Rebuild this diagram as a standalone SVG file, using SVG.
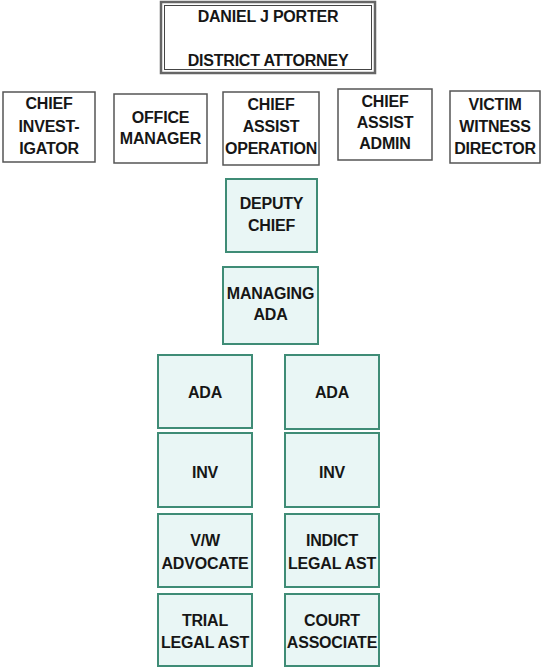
<svg xmlns="http://www.w3.org/2000/svg" width="542" height="667" viewBox="0 0 542 667">
<style>
text{font-family:"Liberation Sans",Arial,sans-serif;font-weight:bold;font-size:16px;letter-spacing:-0.2px;fill:#161616;text-anchor:middle}
.w{fill:#fff;stroke:#555;stroke-width:1.5}
.t{fill:#e9f6f5;stroke:#3f8c76;stroke-width:2}
</style>
<rect width="542" height="667" fill="#fff"/>
<g id="da">
<rect x="161" y="2" width="214" height="71" fill="#fff" stroke="#666" stroke-width="2.5"/>
<rect x="164.5" y="5.5" width="207" height="64" fill="none" stroke="#444" stroke-width="1"/>
<text x="268" y="22">DANIEL J PORTER</text>
<text x="268" y="66">DISTRICT ATTORNEY</text>
</g>
<g id="chief-investigator">
<rect class="w" x="3" y="92" width="92" height="70"/>
<text x="49" y="109">CHIEF</text><text x="49" y="132">INVEST-</text><text x="49" y="154">IGATOR</text>
</g>
<g id="office-manager">
<rect class="w" x="114" y="94" width="93" height="69"/>
<text x="160.5" y="123">OFFICE</text><text x="160.5" y="144">MANAGER</text>
</g>
<g id="chief-assist-operation">
<rect class="w" x="223" y="92" width="96" height="73"/>
<text x="271" y="110">CHIEF</text><text x="271" y="132">ASSIST</text><text x="271" y="154">OPERATION</text>
</g>
<g id="chief-assist-admin">
<rect class="w" x="338" y="89" width="94" height="71"/>
<text x="385" y="107">CHIEF</text><text x="385" y="128">ASSIST</text><text x="385" y="149">ADMIN</text>
</g>
<g id="victim-witness-director">
<rect class="w" x="450" y="91" width="90" height="72"/>
<text x="495" y="110">VICTIM</text><text x="495" y="132">WITNESS</text><text x="495" y="154">DIRECTOR</text>
</g>
<g id="deputy-chief">
<rect class="t" x="226" y="179" width="91" height="73"/>
<text x="271.5" y="209">DEPUTY</text><text x="271.5" y="231">CHIEF</text>
</g>
<g id="managing-ada">
<rect class="t" x="223" y="267" width="95" height="77"/>
<text x="270.5" y="299">MANAGING</text><text x="270.5" y="320">ADA</text>
</g>
<g id="ada-1">
<rect class="t" x="158" y="355" width="94" height="73"/>
<text x="205" y="398">ADA</text>
</g>
<g id="ada-2">
<rect class="t" x="285" y="355" width="94" height="74"/>
<text x="332" y="398">ADA</text>
</g>
<g id="inv-1">
<rect class="t" x="158" y="433" width="94" height="74"/>
<text x="205" y="478">INV</text>
</g>
<g id="inv-2">
<rect class="t" x="285" y="433" width="94" height="74"/>
<text x="332" y="478">INV</text>
</g>
<g id="vw-advocate">
<rect class="t" x="158" y="514" width="94" height="73"/>
<text x="205" y="546">V/W</text><text x="205" y="569">ADVOCATE</text>
</g>
<g id="indict-legal-ast">
<rect class="t" x="285" y="514" width="94" height="73"/>
<text x="332" y="546">INDICT</text><text x="332" y="569">LEGAL AST</text>
</g>
<g id="trial-legal-ast">
<rect class="t" x="158" y="594" width="94" height="72"/>
<text x="205" y="626">TRIAL</text><text x="205" y="648">LEGAL AST</text>
</g>
<g id="court-associate">
<rect class="t" x="285" y="594" width="94" height="72"/>
<text x="332" y="626">COURT</text><text x="332" y="648">ASSOCIATE</text>
</g>
<g id="connectors"></g>
</svg>
